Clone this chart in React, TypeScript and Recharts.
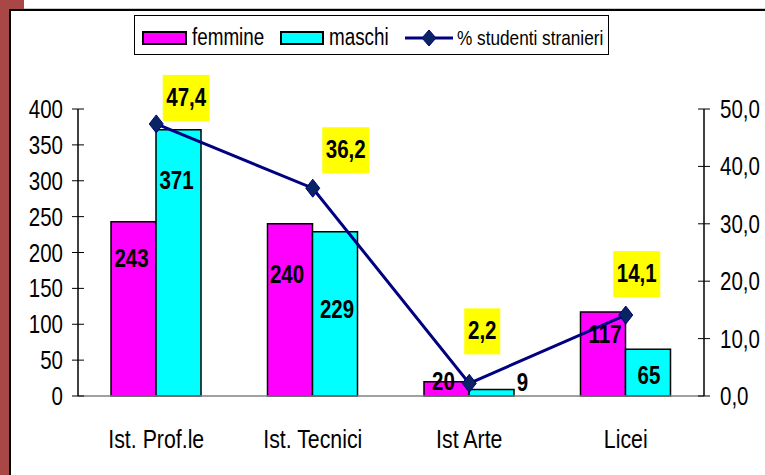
import React from "react";
import { ComposedChart, Bar, Line, XAxis, YAxis, LabelList } from "recharts";

const categories = ["Ist. Prof.le", "Ist. Tecnici", "Ist Arte", "Licei"];
const femmine = [243, 240, 20, 117];
const maschi = [371, 229, 9, 65];
const stranieri = [47.4, 36.2, 2.2, 14.1];
const leftTicks = [0, 50, 100, 150, 200, 250, 300, 350, 400];
const rightTicks = [0, 10, 20, 30, 40, 50];
const boundaryTicks = [0, 1, 2, 3, 4];

// labels were placed by hand in the original, offsets of the text centre
// from the bar top / line point
const femmineLabelOffset = [[-2, 37], [-3, 51], [-3, 0], [2, 23]];
const maschiLabelOffset = [[-2, 51], [2, 78], [31, -7], [1, 27]];
const lineLabelOffset = [[30, -26], [33, -38], [13, -52], [11, -41]];

const data = categories.map((name, i) => ({
  name,
  femmine: femmine[i],
  maschi: maschi[i],
  stranieri: stranieri[i],
}));

const FONT = "'Liberation Sans', Arial, sans-serif";
const SQUEEZE = 0.82; // original font is a narrow arial
const COLORS = {
  femmine: "#ff00ff",
  maschi: "#00ffff",
  line: "#000080",
  dot: "#0a2463",
  frame: "#a94747",
};

const fmt = (v: number) => v.toFixed(1).replace(".", ",");

// narrow text: regular font squeezed horizontally
const NText = ({ x, y, size, anchor = "middle", bold = false, children }: any) => (
  <text
    transform={`translate(${x},${y}) scale(${SQUEEZE},1)`}
    textAnchor={anchor}
    fontSize={size}
    fontWeight={bold ? "bold" : "normal"}
    fontFamily={FONT}
    fill="#000"
  >
    {children}
  </text>
);

const LeftTick = (props: any) => {
  const { x, y, payload } = props;
  return (
    <g>
      <line x1={x - 6} x2={x + 6} y1={y} y2={y} stroke="#000" />
      <NText x={x - 15} y={y + 9} size={25} anchor="end">
        {payload.value}
      </NText>
    </g>
  );
};

const RightTick = (props: any) => {
  const { x, y, payload } = props;
  return (
    <g>
      <line x1={x - 6} x2={x + 6} y1={y} y2={y} stroke="#000" />
      <NText x={x + 16} y={y + 9} size={25} anchor="start">
        {fmt(payload.value)}
      </NText>
    </g>
  );
};

const BoundaryTick = (props: any) => {
  const { x, y } = props;
  return <line x1={x} x2={x} y1={y - 8} y2={y + 9} stroke="#000" />;
};

const CategoryTick = (props: any) => {
  const { x, y, payload } = props;
  return (
    <NText x={x} y={y + 52} size={26}>
      {payload.value}
    </NText>
  );
};

const barLabel = (offsets: number[][]) => (props: any) => {
  const { x, y, width, value, index } = props;
  const [dx, dy] = offsets[index];
  return (
    <NText x={x + width / 2 + dx} y={y + dy + 8} size={25} bold>
      {value}
    </NText>
  );
};

const LineLabel = (props: any) => {
  const { x, y, value, index } = props;
  const [dx, dy] = lineLabelOffset[index];
  const txt = fmt(value);
  const w = 11 * txt.length + 3;
  const cx = x + dx;
  const cy = y + dy;
  return (
    <g>
      <rect x={cx - w / 2} y={cy - 23} width={w} height={46} fill="#ffff00" />
      <NText x={cx} y={cy + 8} size={25} bold>
        {txt}
      </NText>
    </g>
  );
};

const Diamond = (props: any) => {
  const { cx, cy } = props;
  return (
    <polygon
      points={`${cx},${cy - 9} ${cx + 7},${cy} ${cx},${cy + 9} ${cx - 7},${cy}`}
      fill={COLORS.dot}
      stroke={COLORS.line}
      strokeWidth={1}
    />
  );
};

function ChartLegend() {
  return (
    <svg style={{ position: "absolute", left: 0, top: 0 }} width={765} height={60}>
      <rect x={134.5} y={15.5} width={474} height={39} fill="#fff" stroke="#000" />
      <rect x={143} y={32} width={43} height={12} fill={COLORS.femmine} stroke="#000" strokeWidth={2} />
      <NText x={192} y={45} size={23} anchor="start">femmine</NText>
      <rect x={281} y={32} width={42} height={12} fill={COLORS.maschi} stroke="#000" strokeWidth={2} />
      <NText x={329} y={45} size={23} anchor="start">maschi</NText>
      <line x1={405} x2={453} y1={38} y2={38} stroke={COLORS.line} strokeWidth={3} />
      <polygon points="429,30 436,38 429,46 422,38" fill={COLORS.dot} stroke={COLORS.line} />
      <NText x={457} y={45} size={21} anchor="start">% studenti stranieri</NText>
    </svg>
  );
}

export default function App() {
  return (
    <div style={{ position: "fixed", left: 0, top: 0, width: 765, height: 475, background: "#fff", overflow: "hidden" }}>
      {/* slide frame bits */}
      <div style={{ position: "absolute", left: 0, top: 0, width: 9, height: 475, background: COLORS.frame }} />
      <div style={{ position: "absolute", left: 0, top: 0, width: 24, height: 9, background: COLORS.frame }} />
      <div style={{ position: "absolute", left: 24, top: 8, width: 741, height: 1, background: "#c8c8c8" }} />
      <div style={{ position: "absolute", left: 9, top: 9, width: 756, height: 2, background: "#000" }} />
      <div style={{ position: "absolute", left: 9, top: 9, width: 2, height: 466, background: "#000" }} />

      <div style={{ position: "absolute", left: 0, top: 0 }}>
        <ComposedChart
          width={765}
          height={475}
          data={data}
          margin={{ top: 109, right: 0, left: 18, bottom: 34 }}
          barGap={0}
        >
          <XAxis
            xAxisId="b"
            type="number"
            domain={[0, 4]}
            ticks={boundaryTicks}
            allowDataOverflow
            height={0}
            axisLine={false}
            tickLine={false}
            tickSize={0}
            tickMargin={0}
            tick={<BoundaryTick />}
          />
          <XAxis
            dataKey="name"
            height={45}
            axisLine={{ stroke: "#808080", strokeWidth: 1.5 }}
            tickLine={false}
            tickSize={0}
            tickMargin={0}
            tick={<CategoryTick />}
            interval={0}
          />
          <YAxis
            yAxisId="left"
            width={60}
            domain={[0, 400]}
            ticks={leftTicks}
            axisLine={{ stroke: "#000", strokeWidth: 1.5 }}
            tickLine={false}
            tickSize={0}
            tickMargin={0}
            tick={<LeftTick />}
          />
          <YAxis
            yAxisId="right"
            orientation="right"
            width={61}
            domain={[0, 50]}
            ticks={rightTicks}
            axisLine={{ stroke: "#000", strokeWidth: 1.5 }}
            tickLine={false}
            tickSize={0}
            tickMargin={0}
            tick={<RightTick />}
          />
          <Bar yAxisId="left" dataKey="femmine" barSize={45} fill={COLORS.femmine} stroke="#000" strokeWidth={1.5} isAnimationActive={false}>
            <LabelList dataKey="femmine" content={barLabel(femmineLabelOffset)} />
          </Bar>
          <Bar yAxisId="left" dataKey="maschi" barSize={45} fill={COLORS.maschi} stroke="#000" strokeWidth={1.5} isAnimationActive={false}>
            <LabelList dataKey="maschi" content={barLabel(maschiLabelOffset)} />
          </Bar>
          <Line
            yAxisId="right"
            dataKey="stranieri"
            stroke={COLORS.line}
            strokeWidth={3}
            dot={<Diamond />}
            activeDot={false}
            isAnimationActive={false}
          >
            <LabelList dataKey="stranieri" content={<LineLabel />} />
          </Line>
        </ComposedChart>
      </div>
      <ChartLegend />
    </div>
  );
}
